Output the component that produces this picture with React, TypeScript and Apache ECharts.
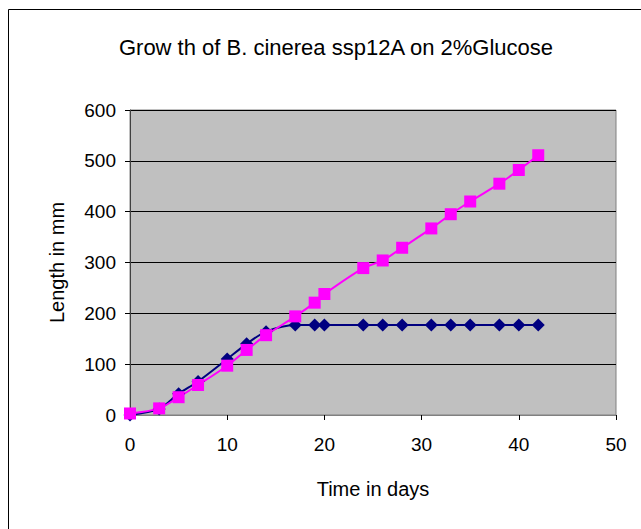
import React, { useEffect, useRef } from "react";
import * as echarts from "echarts";

const days: number[] = [0, 3, 5, 7, 10, 12, 14, 17, 19, 20, 24, 26, 28, 31, 33, 35, 38, 40, 42];
const seriesA: number[] = [0, 12, 42, 66, 110, 140, 164, 177, 177, 177, 177, 177, 177, 177, 177, 177, 177, 177, 177];
const seriesB: number[] = [3, 13, 35, 59, 97, 128, 157, 194, 221, 238, 289, 304, 329, 367, 395, 420, 455, 482, 511];
const titleText = "Grow th of B. cinerea ssp12A on 2%Glucose";
const xName = "Time in days";
const yName = "Length in mm";

export default function App() {
  const ref = useRef<HTMLDivElement>(null);
  useEffect(() => {
    document.body.style.margin = "0";
    const chart = echarts.init(ref.current!, null, { renderer: "svg" });
    const font = "'Liberation Sans', Arial, sans-serif";
    chart.setOption({
      animation: false,
      backgroundColor: "#ffffff",
      title: {
        text: titleText,
        left: 331,
        top: 42,
        textAlign: "center",
        textVerticalAlign: "middle",
        textStyle: { fontFamily: font, fontSize: 22, fontWeight: "normal", color: "#000" },
      },
      graphic: [
        {
          type: "rect",
          shape: { x: 8.5, y: 9.5, width: 700, height: 700 },
          style: { fill: "none", stroke: "#000", lineWidth: 1 },
          silent: true,
        },
      ],
      grid: { left: 130, top: 110, width: 486, height: 305, show: true, backgroundColor: "#C0C0C0", borderColor: "#808080", borderWidth: 1 },
      xAxis: {
        type: "value",
        min: 0,
        max: 50,
        interval: 10,
        name: xName,
        nameLocation: "middle",
        nameGap: 64,
        nameTextStyle: { fontFamily: font, fontSize: 20, color: "#000" },
        axisLine: { show: true, onZero: false, lineStyle: { color: "#808080", width: 1 } },
        axisTick: { show: true, inside: false, length: 5, lineStyle: { color: "#000" } },
        axisLabel: { fontFamily: font, fontSize: 19, color: "#000", margin: 20 },
        splitLine: { show: false },
      },
      yAxis: {
        type: "value",
        min: 0,
        max: 600,
        interval: 100,
        name: yName,
        nameLocation: "middle",
        nameGap: 63,
        nameTextStyle: { fontFamily: font, fontSize: 20, color: "#000" },
        axisLine: { show: true, lineStyle: { color: "#404040", width: 1 } },
        axisTick: { show: true, inside: false, length: 5, lineStyle: { color: "#000" } },
        axisLabel: { fontFamily: font, fontSize: 19, color: "#000", margin: 14 },
        splitLine: { show: true, lineStyle: { color: "#000", width: 1 } },
      },
      series: [
        {
          type: "line",
          data: days.map((d, i) => [d, seriesA[i]]),
          smooth: 0.3,
          symbol: "diamond",
          symbolSize: 13,
          lineStyle: { color: "#000080", width: 2 },
          itemStyle: { color: "#000080" },
        },
        {
          type: "line",
          data: days.map((d, i) => [d, seriesB[i]]),
          smooth: 0.3,
          symbol: "rect",
          symbolSize: 12,
          lineStyle: { color: "#FF00FF", width: 2 },
          itemStyle: { color: "#FF00FF" },
        },
      ],
    });
    return () => chart.dispose();
  }, []);
  return <div ref={ref} style={{ width: 641, height: 529 }} />;
}
